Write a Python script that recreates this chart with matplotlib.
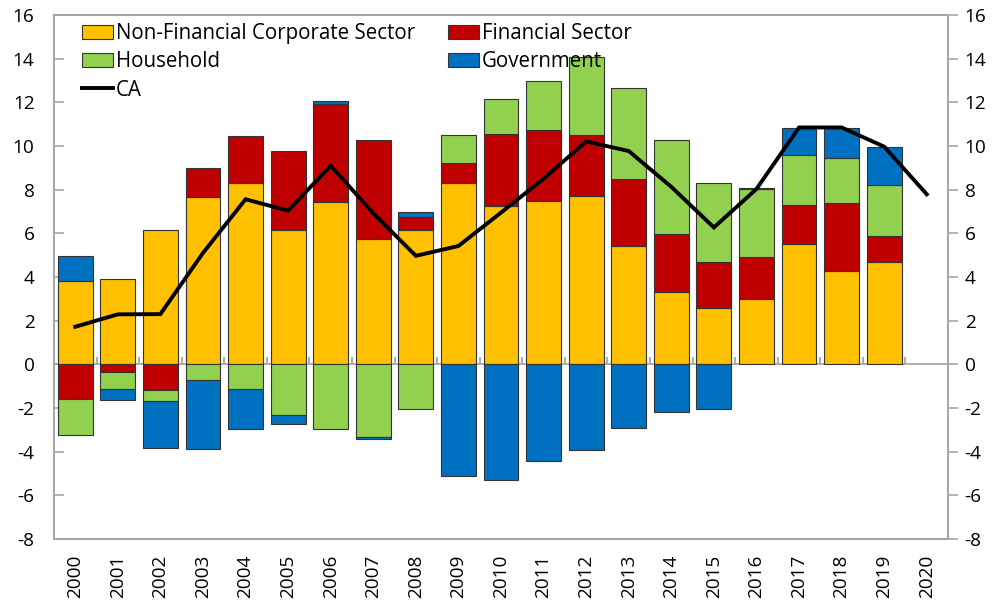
import matplotlib.pyplot as plt
import numpy as np

plt.rcParams['font.family'] = ['Open Sans', 'DejaVu Sans']
plt.rcParams['axes.unicode_minus'] = False

years = [str(y) for y in range(2000, 2021)]
bar_years = years[:-1]

# sector contributions (% of GDP)
nfc = [3.8, 3.9, 6.15, 7.65, 8.3, 6.15, 7.42, 5.74, 6.17, 8.29,
       7.27, 7.48, 7.72, 5.43, 3.31, 2.56, 2.98, 5.52, 4.27, 4.67]
fin = [-1.57, -0.37, -1.19, 1.33, 2.18, 3.64, 4.52, 4.52, 0.59, 0.92,
       3.26, 3.27, 2.78, 3.04, 2.65, 2.13, 1.95, 1.79, 3.11, 1.21]
hh = [-1.68, -0.78, -0.51, -0.73, -1.13, -2.34, -2.96, -3.33, -2.05, 1.29,
      1.64, 2.21, 3.59, 4.2, 4.33, 3.63, 3.09, 2.26, 2.07, 2.35]
gov = [1.15, -0.49, -2.15, -3.16, -1.85, -0.41, 0.12, -0.08, 0.22, -5.1,
       -5.29, -4.44, -3.93, -2.93, -2.2, -2.05, 0.05, 1.25, 1.37, 1.71]
ca = [1.72, 2.29, 2.3, 5.1, 7.56, 7.04, 9.1, 6.92, 4.97, 5.42,
      6.95, 8.5, 10.21, 9.77, 8.13, 6.27, 8.03, 10.85, 10.85, 9.97, 7.79]

series = [("Non-Financial Corporate Sector", nfc, "#FFC000"),
          ("Financial Sector", fin, "#C00000"),
          ("Household", hh, "#92D050"),
          ("Government", gov, "#0070C0")]

fig = plt.figure(figsize=(9.99, 6.06), dpi=100)
ax = fig.add_axes([0.054, 0.1106, 0.895, 0.8646])

x = np.arange(len(bar_years))
pos_base = np.zeros(len(bar_years))
neg_base = np.zeros(len(bar_years))
handles = {}
for name, vals, color in series:
    v = np.array(vals)
    base = np.where(v >= 0, pos_base, neg_base)
    b = ax.bar(x, v, 0.82, bottom=base, color=color, edgecolor="#333333",
               linewidth=0.8, label=name, zorder=2)
    handles[name] = b
    pos_base = pos_base + np.where(v >= 0, v, 0)
    neg_base = neg_base + np.where(v < 0, v, 0)

line, = ax.plot(np.arange(len(years)), ca, color="black", lw=2.8,
                label="CA", zorder=3, solid_joinstyle="miter")

ax.axhline(0, color="#A6A6A6", lw=1.3, zorder=1)
ax.vlines(np.arange(len(years) + 1) - 0.5, 0, 0.32, color="#A6A6A6",
          lw=1.3, zorder=1)

ax.set_xlim(-0.5, len(years) - 0.5)
ax.set_ylim(-8, 16)
ax.set_yticks(range(-8, 17, 2))
ax.set_xticks(np.arange(len(years)))
ax.set_xticklabels(years, rotation=90, fontsize=13.7)
ax.tick_params(axis='x', length=0, pad=11)
ax.tick_params(axis='y', direction='in', length=7, width=1.2,
               color="#A6A6A6", labelsize=13.7, pad=14)

ax2 = ax.twinx()
ax2.set_ylim(-8, 16)
ax2.set_yticks(range(-8, 17, 2))
ax2.tick_params(axis='y', direction='out', length=7, width=1.2,
                color="#A6A6A6", labelsize=13.7, pad=5)

for a in (ax, ax2):
    for s in a.spines.values():
        s.set_color("#A6A6A6")
        s.set_linewidth(1.3)

order = ["Non-Financial Corporate Sector", "Household", "CA",
         "Financial Sector", "Government"]
hs = [handles.get(n, line) for n in order]
ax.legend(hs, order, loc="upper left", ncol=2, frameon=False,
          fontsize=14.8, handlelength=1.5, handletextpad=0.15,
          columnspacing=1.6, labelspacing=0.35,
          borderaxespad=0.0, bbox_to_anchor=(0.022, 1.0))

fig.savefig("out.png", dpi=100)
